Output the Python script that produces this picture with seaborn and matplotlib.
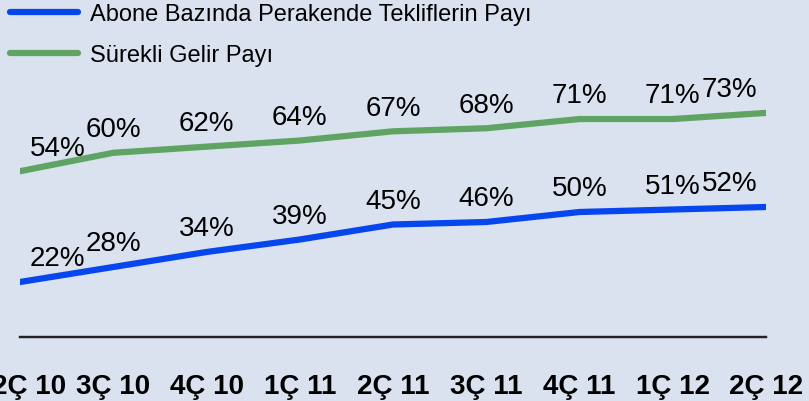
import numpy as np
import pandas as pd
import matplotlib
matplotlib.use("Agg")
import matplotlib.pyplot as plt
import matplotlib.transforms as mtransforms
import seaborn as sns

# data
quarters = ["2Ç 10", "3Ç 10", "4Ç 10", "1Ç 11", "2Ç 11", "3Ç 11", "4Ç 11", "1Ç 12", "2Ç 12"]
abone_pay = [22, 28, 34, 39, 45, 46, 50, 51, 52]
surekli_pay = [54, 60, 62, 64, 67, 68, 71, 71, 73]

df = pd.DataFrame({"pos": np.arange(len(quarters)), "abone": abone_pay, "surekli": surekli_pay})

sns.set_style("white")
plt.rcParams["font.family"] = ["Liberation Sans", "DejaVu Sans"]

bg = "#dae2ef"
blue = "#0646ee"
green = "#5fa463"

fig = plt.figure(figsize=(8.09, 4.02), dpi=100, facecolor=bg)
ax = fig.add_axes([20/809, 64/402, 746/809, 338/402])
ax.set_facecolor(bg)
ax2 = ax.twinx()

sns.lineplot(data=df, x="pos", y="abone", ax=ax, color=blue, linewidth=4.5, label="Abone Bazında Perakende Tekliflerin Payı", legend=False)
sns.lineplot(data=df, x="pos", y="surekli", ax=ax2, color=green, linewidth=4.5, label="Sürekli Gelir Payı", legend=False)

ax.set_ylim(0, 135.2)
ax2.set_ylim(0, 110.1)
ax.set_xlim(0, len(quarters) - 1)

# data labels
for axis, vals in [(ax, abone_pay), (ax2, surekli_pay)]:
    n = len(vals)
    for i, v in enumerate(vals):
        if i == 0:
            ha, dx = "left", 7
        elif i == n - 1:
            ha, dx = "right", -6
        else:
            ha, dx = "center", 0
        axis.annotate(f"{v}%", (i, v), xytext=(dx, 17), textcoords="offset points",
                      ha=ha, va="center", fontsize=20, color="black")

ax.set_xticks(df["pos"])
ax.set_xticklabels(quarters, fontsize=20, fontweight="bold", color="black")
ax.tick_params(axis="x", length=0, pad=26)
# first label sits a little to the right in the original
first = ax.get_xticklabels()[0]
first.set_transform(first.get_transform() + mtransforms.ScaledTranslation(9/100, 0, fig.dpi_scale_trans))
ax.set_yticks([])
ax2.set_yticks([])
ax.set_xlabel("")
ax.set_ylabel("")
ax2.set_ylabel("")

for a in (ax, ax2):
    for s in ["top", "right", "left"]:
        a.spines[s].set_visible(False)
    a.spines["bottom"].set_color("#222222")
    a.spines["bottom"].set_linewidth(1.6)

h1, l1 = ax.get_legend_handles_labels()
h2, l2 = ax2.get_legend_handles_labels()
leg = fig.legend(h1 + h2, l1 + l2, loc="upper left", bbox_to_anchor=(10/809, 1 - 4/402),
                 frameon=False, fontsize=17, handlelength=2.88, handletextpad=0.5,
                 labelspacing=0.8, borderaxespad=0, borderpad=0, labelcolor="black")
for line in leg.get_lines():
    line.set_linewidth(4.5)

fig.savefig("out.png", dpi=100, facecolor=bg)
